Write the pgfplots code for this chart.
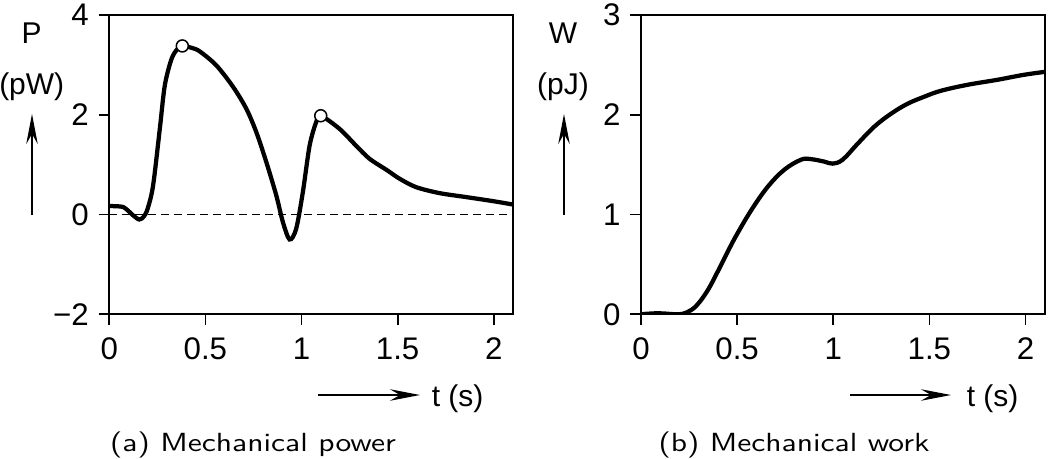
\documentclass[border=0pt]{standalone}
\usepackage{fontspec}
\setmainfont{Liberation Sans}
\usepackage{graphicx}
\usepackage{pgfplots}
\pgfplotsset{compat=1.18}
\usetikzlibrary{arrows.meta}
\begin{document}
\begin{tikzpicture}
\useasboundingbox (0pt,0pt) rectangle (420pt,183.2pt);
\pgfplotsset{
  myax/.style={
    scale only axis, width=161.5pt, height=119.7pt,
    xmin=0, xmax=2.1,
    tick align=outside, major tick length=4.3pt,
    xtick pos=left, ytick pos=left,
    axis line style={line width=0.7pt},
    tick style={line width=0.7pt, black},
    ticklabel style={font=\fontsize{12.5}{14}\selectfont},
    xticklabel style={yshift=-1.6pt},
    yticklabel style={xshift=-0.4pt},
    xtick={0,0.5,1,1.5,2},
    xticklabels={0,0.5,1,1.5,2},
    anchor=south west,
  }
}
\begin{axis}[myax, at={(43.7pt,57.5pt)},
  ymin=-2, ymax=4, ytick={-2,0,2,4}, yticklabels={−2,0,2,4}]
\addplot[black, dashed, line width=0.5pt, dash pattern=on 3.2pt off 2pt] coordinates {(0,0) (2.1,0)};
\addplot[black, line width=1.7pt, smooth, tension=0.5] coordinates {
(0,0.17) (0.04,0.165) (0.073,0.15) (0.10,0.07) (0.125,-0.02) (0.156,-0.10) (0.18,-0.04) (0.20,0.12) (0.228,0.58) (0.263,1.72) (0.289,2.59) (0.324,3.12) (0.355,3.32) (0.38,3.38) (0.43,3.34) (0.471,3.27) (0.557,2.99) (0.644,2.56) (0.713,2.12) (0.765,1.65) (0.817,1.05) (0.869,0.38) (0.903,-0.15) (0.938,-0.50) (0.972,-0.29) (1.007,0.45) (1.042,1.38) (1.076,1.85) (1.10,1.98) (1.197,1.72) (1.284,1.38) (1.353,1.12) (1.448,0.88) (1.509,0.72) (1.595,0.55) (1.716,0.43) (1.855,0.35) (1.993,0.27) (2.1,0.20)};
\addplot[only marks, mark=*, mark size=2.4pt, mark options={fill=white, draw=black, line width=0.6pt}] coordinates {(0.38,3.38) (1.10,1.98)};
\end{axis}
\begin{axis}[myax, at={(256.4pt,57.5pt)},
  ymin=0, ymax=3, ytick={0,1,2,3}, yticklabels={0,1,2,3}]
\addplot[black, line width=1.7pt, smooth, tension=0.6] coordinates {
(0,0) (0.09,0.01) (0.19,0.0) (0.24,0.02) (0.29,0.09) (0.35,0.25) (0.418,0.5) (0.487,0.76) (0.574,1.045) (0.66,1.28) (0.746,1.45) (0.833,1.55) (0.885,1.555) (0.954,1.53) (0.997,1.51) (1.049,1.55) (1.127,1.71) (1.213,1.88) (1.3,2.01) (1.386,2.11) (1.472,2.18) (1.559,2.24) (1.697,2.30) (1.852,2.35) (1.99,2.40) (2.1,2.43)};
\end{axis}
\begin{scope}[font=\fontsize{12}{14}\selectfont]
\node at (12.7pt,170pt) {P};
\node at (12.7pt,148.5pt) {(pW)};
\draw[line width=0.5pt, -{Stealth[length=12pt,width=4.6pt,inset=4pt]}] (12.8pt,97.2pt) -- (12.8pt,137.6pt);
\draw[line width=0.5pt, -{Stealth[length=12pt,width=4.6pt,inset=4pt]}] (127.2pt,25.2pt) -- (168pt,25.2pt);
\node[anchor=base west, inner sep=0pt] at (172.5pt,20.8pt) {t (s)};
\node at (225.2pt,170pt) {W};
\node at (225.2pt,148.5pt) {(pJ)};
\draw[line width=0.5pt, -{Stealth[length=12pt,width=4.6pt,inset=4pt]}] (225.6pt,97.2pt) -- (225.6pt,137.6pt);
\draw[line width=0.5pt, -{Stealth[length=12pt,width=4.6pt,inset=4pt]}] (340pt,25.2pt) -- (380.4pt,25.2pt);
\node[anchor=base west, inner sep=0pt] at (386.5pt,20.8pt) {t (s)};
\end{scope}
\node[anchor=base, inner sep=0pt, font=\sffamily\fontsize{10.5}{12}\selectfont] at (101.2pt,2.5pt) {\scalebox{1.2}[1]{(a) Mechanical power}};
\node[anchor=base, inner sep=0pt, font=\sffamily\fontsize{10.5}{12}\selectfont] at (317.6pt,2.5pt) {\scalebox{1.2}[1]{(b) Mechanical work}};
\end{tikzpicture}
\end{document}
